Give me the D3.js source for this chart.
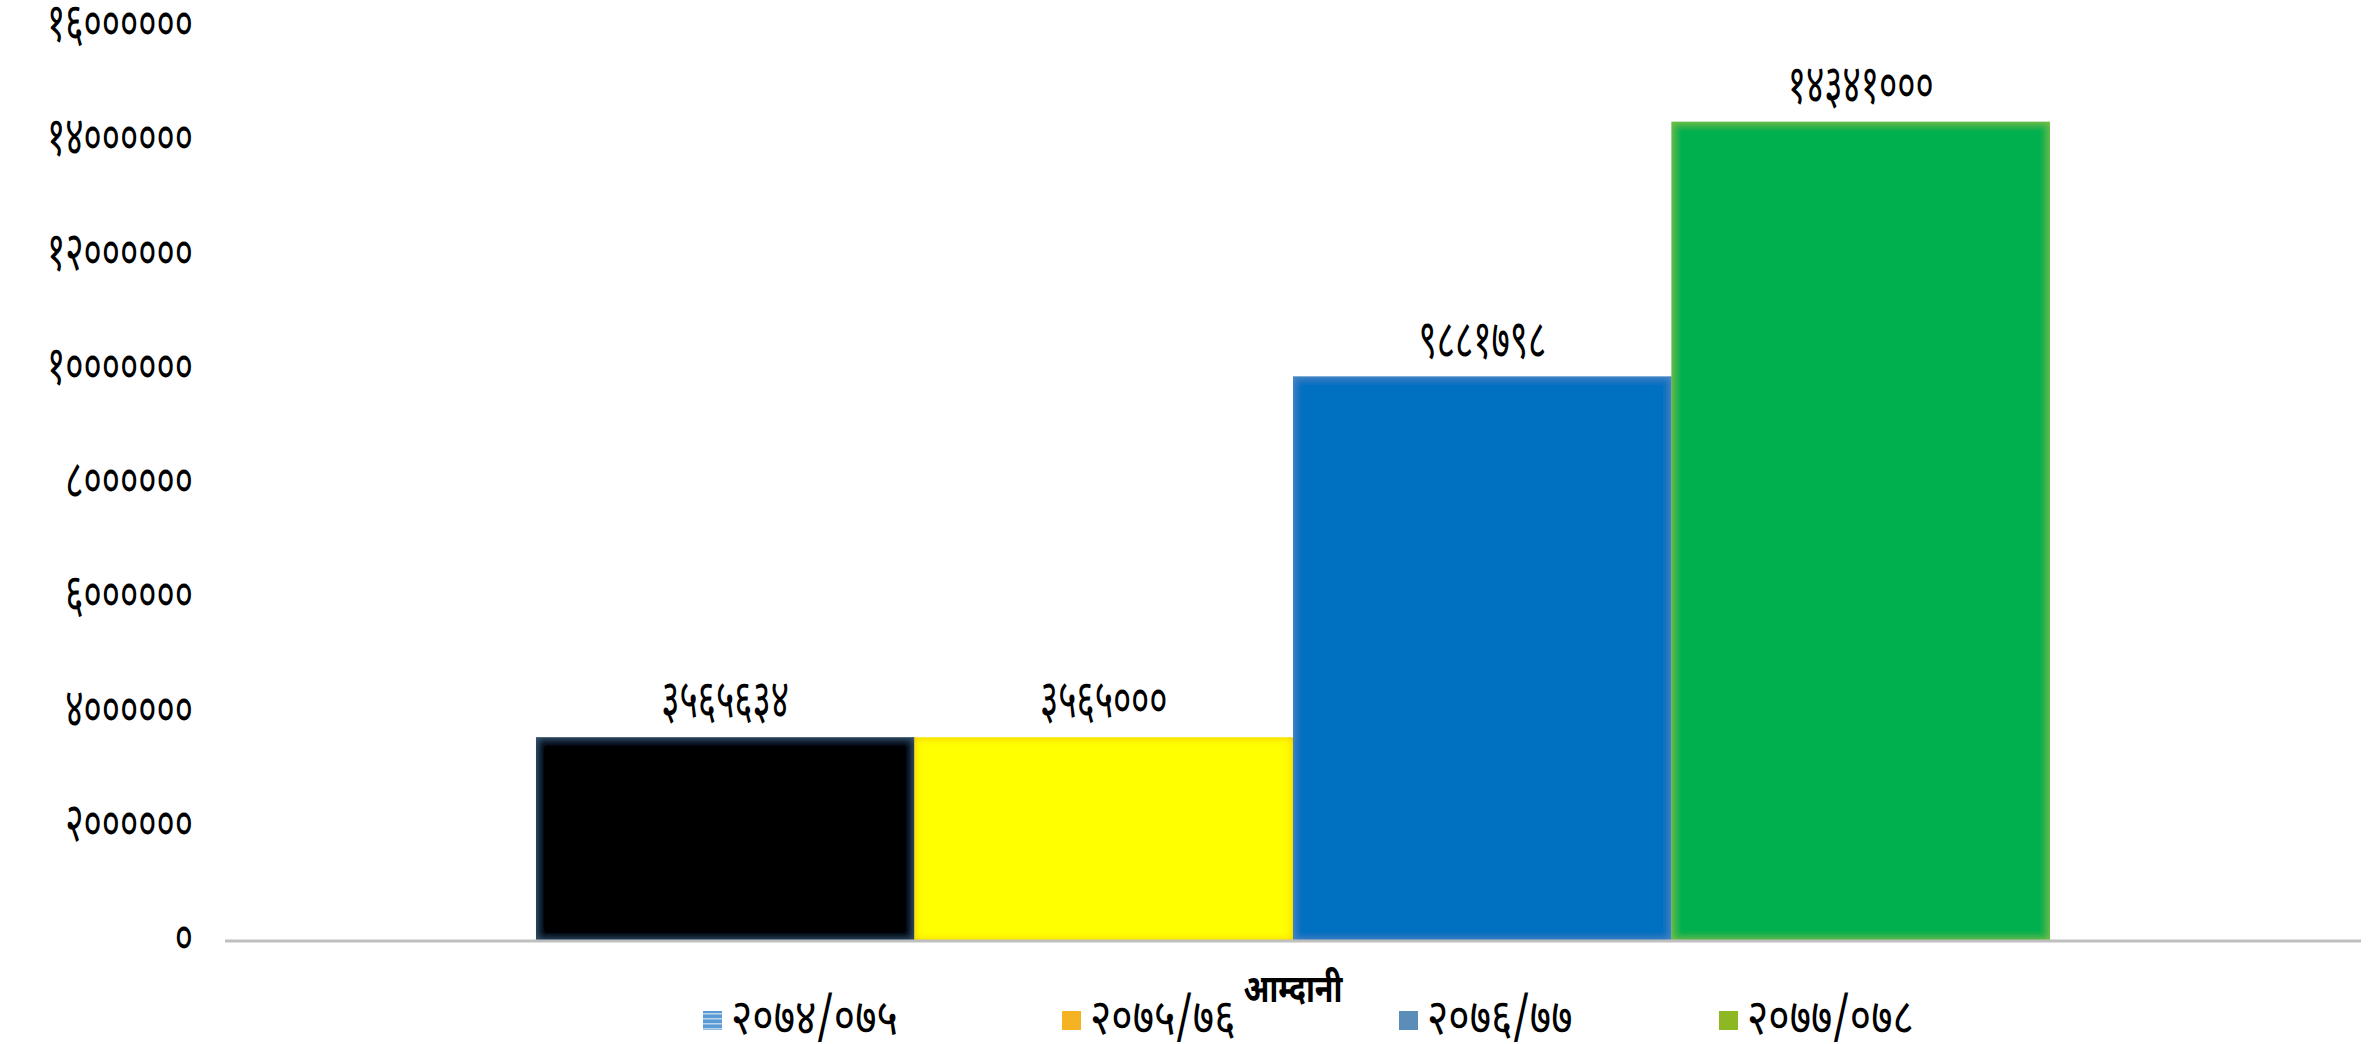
<!DOCTYPE html>
<html>
<head>
<meta charset="utf-8">
<script src="https://cdn.jsdelivr.net/npm/d3@7"></script>
<style>
  html, body { margin: 0; padding: 0; background: #fff; }
  svg text { font-family: "Noto Sans Devanagari", "Lohit Devanagari", "Noto Sans", "DejaVu Sans", sans-serif; fill: #000; }
</style>
</head>
<body>
<svg id="chart" width="2379" height="1044"></svg>
<script>
// data
const category = ['आम्दानी'];
const seriesNames = ['२०७४/०७५', '२०७५/७६', '२०७६/७७', '२०७७/०७८'];
const seriesValues = [3565634, 3565000, 9881798, 14341000];
const valueLabels = ['३५६५६३४', '३५६५०००', '९८८१७९८', '१४३४१०००'];
const yTicks = [0, 2000000, 4000000, 6000000, 8000000, 10000000, 12000000, 14000000, 16000000];

const barColors = ['#000000', '#ffff00', '#0070c0', '#00b050'];
const glowColors = ['#3d6185', '#f2b705', '#5a93c6', '#8cc63f'];
const legendColors = ['#5b9bd5', '#f5b222', '#5b8db8', '#8db824'];

const devanagari = '०१२३४५६७८९';
function toNepali(n) {
    return String(n).replace(/[0-9]/g, d => devanagari[+d]);
}

const svg = d3.select('#chart');
const margin = { left: 225, right: 18, top: 27, bottom: 103 };
const width = 2379, height = 1044;
const fontSize = 54;
const squeeze = 0.65;   // tall narrow digits like the original font

const y = d3.scaleLinear()
    .domain([0, 16000000])
    .range([height - margin.bottom, margin.top]);

const x0 = d3.scaleBand()
    .domain(category)
    .range([margin.left, width - margin.right])
    .paddingOuter(0.2054)
    .paddingInner(0);

const x1 = d3.scaleBand()
    .domain(seriesNames)
    .range([0, x0.bandwidth()])
    .padding(0);

// inner glow filters
const defs = svg.append('defs');
glowColors.forEach((c, i) => {
    const f = defs.append('filter').attr('id', 'glow' + i)
        .attr('x', '-0.1').attr('y', '-0.1').attr('width', '1.2').attr('height', '1.2');
    f.append('feFlood').attr('flood-color', c).attr('result', 'col');
    f.append('feComponentTransfer').attr('in', 'SourceAlpha').attr('result', 'inv')
        .append('feFuncA').attr('type', 'table').attr('tableValues', '1 0');
    f.append('feGaussianBlur').attr('in', 'inv').attr('stdDeviation', 4).attr('result', 'blur');
    f.append('feComposite').attr('in', 'col').attr('in2', 'blur').attr('operator', 'in').attr('result', 'edge');
    f.append('feComposite').attr('in', 'edge').attr('in2', 'SourceAlpha').attr('operator', 'in').attr('result', 'edgeIn');
    const m = f.append('feMerge');
    m.append('feMergeNode').attr('in', 'SourceGraphic');
    m.append('feMergeNode').attr('in', 'edgeIn');
});

const pat = defs.append('pattern').attr('id', 'stripes')
    .attr('width', 19).attr('height', 5).attr('patternUnits', 'userSpaceOnUse');
pat.append('rect').attr('width', 19).attr('height', 5).attr('fill', legendColors[0]);
pat.append('rect').attr('y', 3).attr('width', 19).attr('height', 1.5).attr('fill', '#bcd6ee');

// y axis labels
svg.append('g')
    .selectAll('text')
    .data(yTicks)
    .enter()
    .append('text')
    .attr('transform', d => `translate(193,${y(d)}) scale(${squeeze},1)`)
    .attr('dy', '0.26em')
    .attr('text-anchor', 'end')
    .style('font-size', fontSize + 'px')
    .text(d => toNepali(d));

// bars
const g = svg.append('g').attr('transform', `translate(${x0(category[0])},0)`);
g.selectAll('rect')
    .data(seriesValues)
    .enter()
    .append('rect')
    .attr('x', (d, i) => x1(seriesNames[i]))
    .attr('y', d => y(d))
    .attr('width', x1.bandwidth())
    .attr('height', d => y(0) - y(d))
    .attr('fill', (d, i) => barColors[i])
    .attr('filter', (d, i) => `url(#glow${i})`);

// value labels
g.selectAll('text.val')
    .data(seriesValues)
    .enter()
    .append('text')
    .attr('class', 'val')
    .attr('transform', (d, i) => `translate(${x1(seriesNames[i]) + x1.bandwidth() / 2},${y(d) - 19}) scale(${squeeze},1)`)
    .attr('text-anchor', 'middle')
    .style('font-size', fontSize + 'px')
    .text((d, i) => valueLabels[i]);

// x axis line
svg.append('line')
    .attr('x1', margin.left)
    .attr('x2', width - margin.right)
    .attr('y1', y(0))
    .attr('y2', y(0))
    .attr('stroke', '#bfbfbf')
    .attr('stroke-width', 3);

// category label
svg.append('text')
    .attr('transform', `translate(${x0(category[0]) + x0.bandwidth() / 2},1002) scale(0.8,1)`)
    .attr('text-anchor', 'middle')
    .style('font-size', '38px')
    .style('font-weight', 'bold')
    .text(category[0]);

// legend
const legendX = [703, 1062, 1399, 1719];
const legend = svg.append('g');
seriesNames.forEach((name, i) => {
    legend.append('rect')
        .attr('x', legendX[i])
        .attr('y', 1011)
        .attr('width', 19)
        .attr('height', 19)
        .attr('fill', i === 0 ? 'url(#stripes)' : legendColors[i]);
    legend.append('text')
        .attr('transform', `translate(${legendX[i] + 28},1034) scale(0.82,1)`)
        .style('font-size', '50px')
        .text(name);
});
</script>
</body>
</html>
